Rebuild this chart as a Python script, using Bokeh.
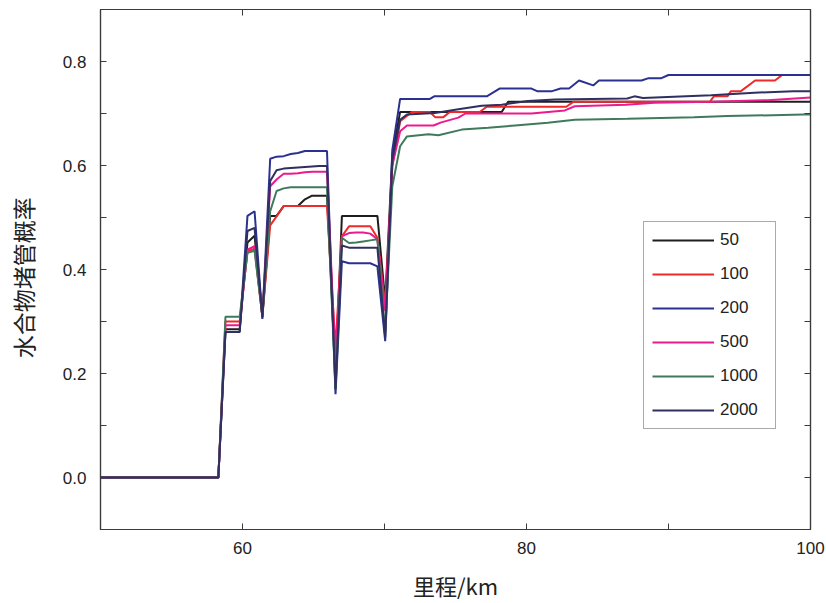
import math
from bokeh.plotting import figure
from bokeh.layouts import row
from bokeh.models import (Range1d, LinearAxis, FixedTicker, Legend, LegendItem,
                          CustomJSTickFormatter)
from bokeh.core.properties import value
from bokeh.embed import file_html
from bokeh.resources import INLINE

# Shared stations (km) up to the end of the last dip
km_head = [50.0, 58.3, 58.8, 59.8, 60.35, 60.85, 61.4, 61.95, 62.4, 62.9, 63.4, 63.9,
           64.4, 64.9, 65.4, 65.95, 66.55, 67.0, 67.5, 68.0, 68.5, 69.0, 69.5, 70.05,
           70.55, 71.1]

# Hydrate blockage probability along the line, per series
p50_head = [0, 0, 0.285, 0.285, 0.452, 0.465, 0.31, 0.503, 0.503, 0.522, 0.522, 0.522,
            0.535, 0.542, 0.542, 0.542, 0.20, 0.503, 0.503, 0.503, 0.503, 0.503, 0.503,
            0.34, 0.62, 0.703]
p100_head = [0, 0, 0.30, 0.30, 0.435, 0.44, 0.31, 0.485, 0.502, 0.522, 0.522, 0.522,
             0.522, 0.522, 0.522, 0.522, 0.25, 0.464, 0.483, 0.483, 0.483, 0.483, 0.461,
             0.33, 0.60, 0.685]
p200_head = [0, 0, 0.28, 0.28, 0.503, 0.512, 0.305, 0.613, 0.617, 0.618, 0.622, 0.624,
             0.628, 0.628, 0.628, 0.628, 0.16, 0.416, 0.412, 0.412, 0.412, 0.412, 0.406,
             0.262, 0.63, 0.728]
p500_head = [0, 0, 0.293, 0.293, 0.438, 0.445, 0.31, 0.56, 0.573, 0.584, 0.584, 0.585,
             0.587, 0.588, 0.588, 0.588, 0.22, 0.464, 0.47, 0.471, 0.471, 0.469, 0.458,
             0.32, 0.60, 0.666]
p1000_head = [0, 0, 0.309, 0.309, 0.432, 0.436, 0.31, 0.512, 0.551, 0.556, 0.558, 0.558,
              0.558, 0.558, 0.558, 0.558, 0.17, 0.461, 0.451, 0.452, 0.454, 0.456, 0.458,
              0.28, 0.56, 0.637]
p2000_head = [0, 0, 0.28, 0.28, 0.474, 0.48, 0.308, 0.57, 0.591, 0.594, 0.595, 0.596,
              0.597, 0.598, 0.599, 0.599, 0.17, 0.446, 0.442, 0.442, 0.442, 0.442, 0.442,
              0.27, 0.61, 0.688]

# Breakpoints beyond 71.1 km
km50_tail = [78.25, 78.7, 100.0]
p50_tail = [0.703, 0.7224, 0.7224]

km100_tail = [71.93, 73.2, 73.56, 74.15, 74.6, 76.7, 77.2, 82.8, 83.3, 92.9, 93.2, 94.15,
              94.4, 95.1, 96.1, 97.5, 98.0, 100.0]
p100_tail = [0.703, 0.703, 0.693, 0.693, 0.703, 0.703, 0.713, 0.713, 0.7224, 0.7224, 0.733,
             0.733, 0.743, 0.743, 0.7635, 0.7635, 0.774, 0.774]

km200_tail = [73.2, 73.5, 77.2, 78.1, 80.35, 80.75, 81.8, 82.4, 83.0, 83.7, 84.7, 85.1,
              88.1, 88.6, 89.5, 90.0, 100.0]
p200_tail = [0.728, 0.733, 0.733, 0.748, 0.748, 0.743, 0.743, 0.748, 0.748, 0.7635, 0.754,
             0.7635, 0.7635, 0.768, 0.768, 0.774, 0.774]

km500_tail = [71.58, 73.45, 74.0, 75.2, 75.7, 80.35, 82.7, 83.4, 87.0, 89.0, 93.0, 97.0, 100.0]
p500_tail = [0.677, 0.677, 0.683, 0.692, 0.700, 0.700, 0.706, 0.714, 0.717, 0.7205, 0.7224,
             0.7256, 0.731]

km1000_tail = [71.58, 73.1, 73.8, 75.44, 77.3, 79.2, 81.5, 83.4, 87.1, 91.8, 94.15, 99.5, 100.0]
p1000_tail = [0.656, 0.66, 0.658, 0.669, 0.6725, 0.677, 0.682, 0.688, 0.690, 0.693, 0.695,
              0.698, 0.698]

km2000_tail = [71.58, 73.56, 75.2, 76.84, 78.25, 80.1, 82.0, 87.1, 87.6, 88.2, 93.0, 96.05,
               98.8, 100.0]
p2000_tail = [0.698, 0.701, 0.708, 0.715, 0.717, 0.724, 0.727, 0.729, 0.733, 0.730, 0.735,
              0.740, 0.743, 0.743]

series_labels = ["50", "100", "200", "500", "1000", "2000"]
series_colors = ["#1e1e1e", "#ee2a2a", "#2b3190", "#ec1a8c", "#3f7a5c", "#2f2f60"]
series_km = [km_head + km50_tail, km_head + km100_tail, km_head + km200_tail,
             km_head + km500_tail, km_head + km1000_tail, km_head + km2000_tail]
series_p = [p50_head + p50_tail, p100_head + p100_tail, p200_head + p200_tail,
            p500_head + p500_tail, p1000_head + p1000_tail, p2000_head + p2000_tail]

x_major = [60, 80, 100]
x_minor = [50, 70, 90]
y_major = [0.0, 0.2, 0.4, 0.6, 0.8]
y_minor = [-0.1, 0.1, 0.3, 0.5, 0.7, 0.9]

x_title = "里程/km"
y_title = "水合物堵管概率"

AX = "#3a3a3a"
NUM_FONT = "Liberation Sans"
CJK_FONT = "Noto Sans CJK SC"
H = 603
TITLE_W = 50

# Narrow strip on the left that carries the rotated y title
strip = figure(width=TITLE_W, height=H, output_backend="svg", toolbar_location=None,
               x_range=Range1d(0, TITLE_W), y_range=Range1d(0, H),
               x_axis_type=None, y_axis_type=None,
               min_border=0, min_border_left=0, min_border_right=0,
               min_border_top=0, min_border_bottom=0)
strip.outline_line_color = None
strip.xgrid.visible = False
strip.ygrid.visible = False
strip.background_fill_color = "white"
strip.border_fill_color = "white"
strip.text(x=[22], y=[292], text=[y_title], angle=math.pi / 2,
           text_font=value(CJK_FONT), text_font_size="23px", text_align="center",
           text_baseline="middle", text_color="#222222")

p = figure(width=826 - TITLE_W, height=H, output_backend="svg", toolbar_location=None,
           x_range=Range1d(50, 100), y_range=Range1d(-0.1, 0.9),
           x_axis_type=None, y_axis_type=None,
           min_border_left=100 - TITLE_W, min_border_right=16, min_border_top=9,
           min_border_bottom=73)
p.background_fill_color = "white"
p.border_fill_color = "white"
p.outline_line_color = AX
p.outline_line_width = 1.2
p.xgrid.visible = False
p.ygrid.visible = False


def style_axis(ax, labels=True):
    ax.axis_line_color = AX
    ax.axis_line_width = 1.2
    ax.major_tick_line_color = AX
    ax.minor_tick_line_color = AX
    ax.major_tick_in = 6
    ax.major_tick_out = 0
    ax.minor_tick_in = 6
    ax.minor_tick_out = 0
    ax.major_label_text_font = NUM_FONT
    ax.major_label_text_font_size = "17px"
    ax.major_label_text_color = "#222222"
    if not labels:
        ax.major_label_text_alpha = 0
        ax.major_label_text_font_size = "1px"
        ax.major_label_standoff = 0


xb = LinearAxis(ticker=FixedTicker(ticks=x_major, minor_ticks=x_minor))
style_axis(xb)
xb.major_label_standoff = 12
xb.axis_label = x_title
xb.axis_label_text_font = CJK_FONT
xb.axis_label_text_font_size = "22px"
xb.axis_label_text_font_style = "normal"
xb.axis_label_text_color = "#222222"
xb.axis_label_standoff = 12
p.add_layout(xb, "below")

xt = LinearAxis(ticker=FixedTicker(ticks=x_major, minor_ticks=x_minor))
style_axis(xt, labels=False)
p.add_layout(xt, "above")

yl = LinearAxis(ticker=FixedTicker(ticks=y_major, minor_ticks=y_minor))
style_axis(yl)
yl.major_label_standoff = 14
yl.formatter = CustomJSTickFormatter(code="return tick.toFixed(1);")
p.add_layout(yl, "left")

yr = LinearAxis(ticker=FixedTicker(ticks=y_major, minor_ticks=y_minor))
style_axis(yr, labels=False)
p.add_layout(yr, "right")

items = []
for lab, col, xs, ys in zip(series_labels, series_colors, series_km, series_p):
    r = p.line(xs, ys, line_color=col, line_width=2)
    items.append(LegendItem(label=lab, renderers=[r]))

legend = Legend(items=items, location=(543, 100))
legend.border_line_color = "#555555"
legend.border_line_width = 1.2
legend.background_fill_color = "white"
legend.background_fill_alpha = 1
legend.label_text_font = NUM_FONT
legend.label_text_font_size = "17px"
legend.label_text_color = "#222222"
legend.glyph_width = 62
legend.glyph_height = 20
legend.label_height = 20
legend.label_width = 47
legend.spacing = 14
legend.padding = 8
legend.label_standoff = 6
legend.margin = 0
p.add_layout(legend, "center")

layout = row(strip, p, spacing=0)
open("out.html", "w").write(file_html(layout, INLINE))
